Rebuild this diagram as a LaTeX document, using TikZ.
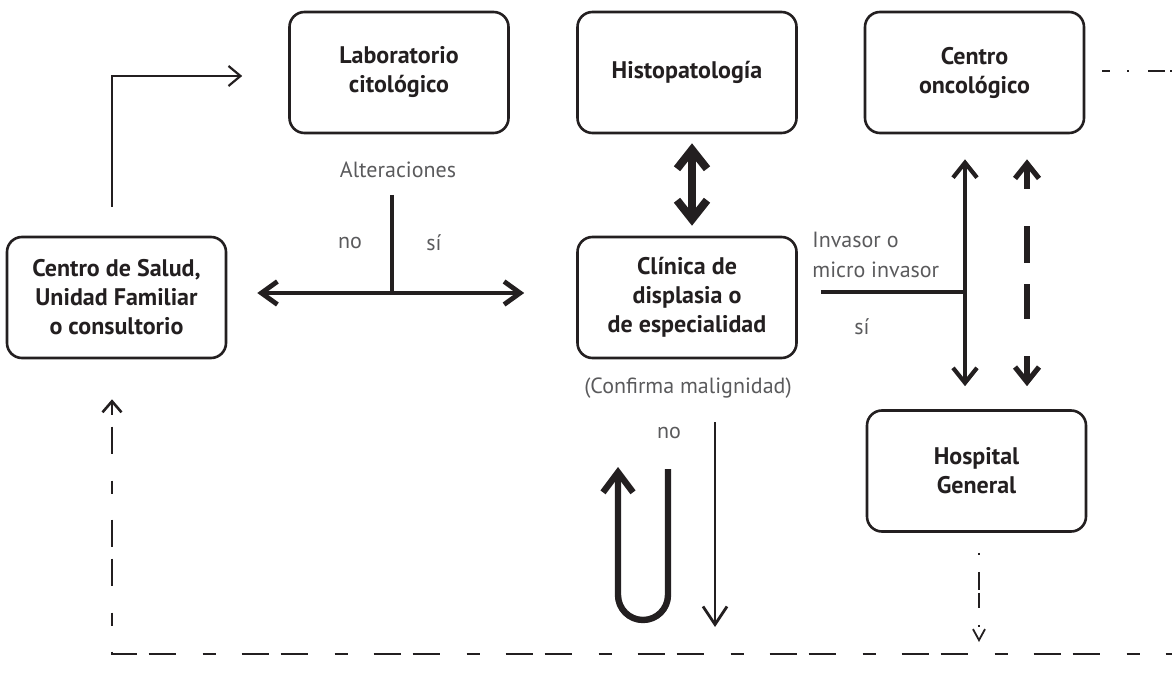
\documentclass[tikz,border=0pt]{standalone}
\usepackage{fontspec}
\setmainfont{PT Sans}
\usepackage{tikz}
\usetikzlibrary{arrows.meta}
\definecolor{tinta}{RGB}{35,31,32}
\definecolor{grisleyenda}{RGB}{90,90,92}

\begin{document}
\begin{tikzpicture}[x=0.5pt,y=-0.5pt,
  caja/.style={draw=tinta,line width=1.3pt,rounded corners=7.5pt,minimum width=109.5pt,minimum height=60.5pt,align=center,text=tinta,font=\fontsize{12}{14.5}\selectfont\bfseries},
  leyenda/.style={text=grisleyenda,inner sep=0pt,font=\fontsize{11}{15}\selectfont},
  fina/.style={draw=tinta,line width=1.1pt,>={Straight Barb[length=6pt,width=10pt]}},
  media/.style={draw=tinta,line width=2.4pt,>={Straight Barb[length=8pt,width=11.5pt]}},
  gruesa/.style={draw=tinta,line width=4pt,>={Straight Barb[length=9.5pt,width=15pt]}},
  vuelta/.style={draw=tinta,line width=3.2pt,>={Straight Barb[length=10pt,width=15pt]}},
  vertical/.style={draw=tinta,line width=2.1pt,>={Straight Barb[length=7.5pt,width=12pt]}},
  bajada/.style={draw=tinta,line width=1.4pt,>={Straight Barb[length=9pt,width=12pt]}},
  puntos/.style={draw=tinta,line width=0.9pt,dash pattern=on 1pt off 8.5pt on 9pt off 1.5pt on 7.5pt off 8.5pt,>={Straight Barb[length=5.5pt,width=6pt]}},
  discontinua/.style={draw=tinta,line width=1.3pt,dash pattern=on 13.5pt off 6pt on 13.5pt off 13.5pt on 6.5pt off 13pt,dash phase=7.5pt,>={Straight Barb[length=5.5pt,width=9.5pt]}},
  rayapunto/.style={draw=tinta,line width=1.3pt,dash pattern=on 4pt off 8.5pt on 1pt off 9.5pt on 8.5pt off 2.5pt}]
\useasboundingbox (0,0) rectangle (1172,679);

% Cajas principales
\node[caja] (salud) at (116.5,297.5) {Centro de Salud,\\Unidad Familiar\\o consultorio};
\node[caja] (lab) at (399,72.5) {Laboratorio\\citológico};
\node[caja] (histo) at (687,72.5) {Histopatología};
\node[caja] (onco) at (974.5,72.5) {Centro\\oncológico};
\node[caja] (clinica) at (687,297.5) {Clínica de\\displasia o\\de especialidad};
\node[caja] (hospital) at (976.5,471) {Hospital\\General};

% Leyendas
\node[leyenda] (alteraciones) at (398,170) {Alteraciones};
\node[leyenda] (altno) at (350,243) {no};
\node[leyenda] (altsi) at (434,243) {sí};
\node[leyenda,align=left,anchor=west] (invasor) at (812,255) {Invasor o\\micro invasor};
\node[leyenda] (invsi) at (862,327) {sí};
\node[leyenda] (confirma) at (688,388) {(Confirma malignidad)};
\node[leyenda] (confno) at (669,433) {no};

% Puntos de cruce
\coordinate (alttope) at (392,195);
\coordinate (altcruce) at (392,293);
\coordinate (invcruce) at (965,292);
\coordinate (bajadatope) at (715,422);
\coordinate (bajadafin) at (715,627);
\coordinate (vueltaini) at (668,469);
\coordinate (vueltafin) at (618,467);
\coordinate (hospfin) at (979,642);
\coordinate (bordeinf) at (1172,654);
\coordinate (bordesup) at (1172,71);

% Conexiones
\draw[fina,->,shorten <=14.5pt,shorten >=23pt] ([xshift=-2.25pt]salud.north) |- ([yshift=-1.75pt]lab.west);
\draw[media] (alttope) -- (altcruce);
\draw[media,<->,shorten <=15pt,shorten >=26pt] ([yshift=2.25pt]salud.east) -- ([yshift=2.25pt]clinica.west);
\draw[gruesa,<->,shorten <=4.5pt,shorten >=5pt] ([xshift=2.5pt]histo.south) -- ([xshift=2.5pt]clinica.north);
\draw[media,shorten <=11.5pt] (clinica.east |- invcruce) -- (invcruce);
\draw[vertical,<->,shorten <=12.5pt,shorten >=11.5pt] ([xshift=-4.75pt]onco.south) -- ([xshift=-5.75pt]hospital.north);
\draw[vertical,line width=2.6pt,<->,dash pattern=on 11.5pt off 18.5pt on 18.5pt off 10.5pt on 17.5pt off 18.5pt on 20pt off 20pt,shorten <=12.5pt,shorten >=11.5pt] ([xshift=26.25pt]onco.south) -- ([xshift=25.25pt]hospital.north);
\draw[bajada,->] (bajadatope) -- (bajadafin);
\draw[vuelta,->,rounded corners=12.5pt] (vueltaini) -- ++(0,151) -- ++(-50,0) -- (vueltafin);
\draw[puntos,->,shorten <=10pt] ([xshift=1.25pt]hospital.south) -- (hospfin);
\draw[discontinua,<-,shorten <=20pt] ([xshift=-2.25pt]salud.south) |- (bordeinf);
\draw[rayapunto,shorten <=8.5pt] ([yshift=0.75pt]onco.east) -- (bordesup);
\end{tikzpicture}
\end{document}
